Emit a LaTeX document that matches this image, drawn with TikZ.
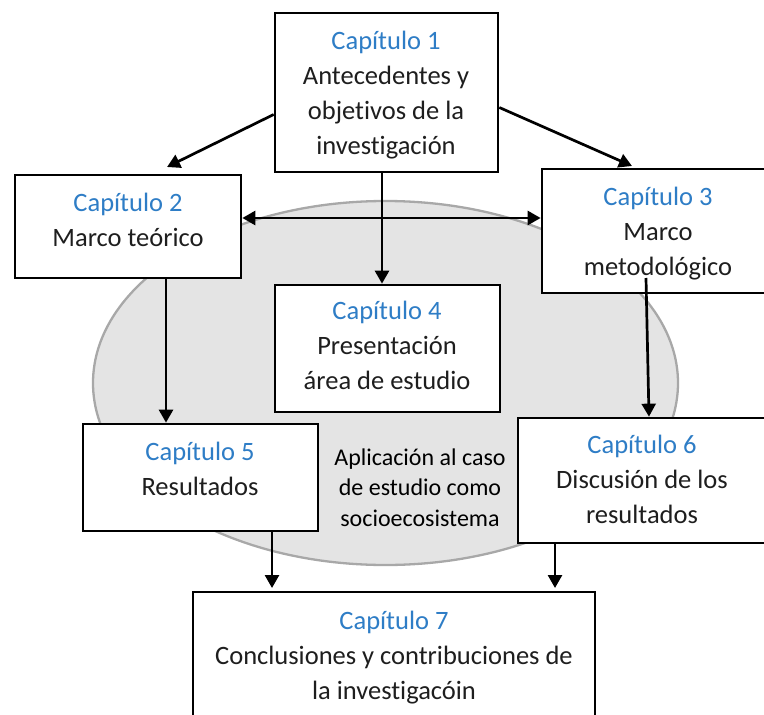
\documentclass[tikz,border=0pt]{standalone}
\usepackage{fontspec}
\setmainfont{Carlito}[Ligatures=NoCommon]
\usetikzlibrary{arrows.meta}
\definecolor{chapblue}{RGB}{46,125,198}
\definecolor{bodyink}{RGB}{30,30,30}
\definecolor{ovalfill}{RGB}{228,228,228}
\definecolor{ovaledge}{RGB}{168,168,168}
\begin{document}
\begin{tikzpicture}[x=1pt,y=-1pt,
  chapbox/.style={draw=black,line width=2.7pt,fill=white,inner sep=0pt},
  % multi-line nodes: the base anchor sits on the last line's baseline
  boxtext/.style={align=center,text=bodyink,inner sep=0pt,anchor=base,
    font=\fontsize{26.5}{35}\selectfont},
  midtext/.style={align=center,text=black,inner sep=0pt,anchor=base,
    font=\fontsize{24}{30.5}\selectfont},
  link/.style={line width=2.7pt,-{Triangle[length=13pt,width=14pt]}},
  duallink/.style={line width=2.7pt,{Triangle[length=13pt,width=14pt]}-{Triangle[length=13pt,width=14pt]}}]

\useasboundingbox (0,0) rectangle (764,715);

% shaded case-study region
\draw[fill=ovalfill,draw=ovaledge,line width=2.3pt]
  (385.5,383) ellipse [x radius=292.5pt, y radius=182pt];

% chapter boxes
\node[chapbox,minimum width=223pt,minimum height=159pt] (c1) at (386.5,92.5) {};
\node[chapbox,minimum width=226pt,minimum height=103pt] (c2) at (128,226.5) {};
\node[chapbox,minimum width=226pt,minimum height=124pt] (c3) at (655,231) {};
\node[chapbox,minimum width=225pt,minimum height=127pt] (c4) at (387.5,348.5) {};
\node[chapbox,minimum width=235pt,minimum height=107pt] (c5) at (200.5,477.5) {};
\node[chapbox,minimum width=248pt,minimum height=125pt] (c6) at (642,480.5) {};
\node[chapbox,minimum width=402pt,minimum height=130pt] (c7) at (394,657) {};

% box texts
\node[boxtext] (t1) at (386,154) {\textcolor{chapblue}{Capítulo 1}\\Antecedentes y\\objetivos de la\\investigación};
\node[boxtext] (t2) at (128,246) {\textcolor{chapblue}{Capítulo 2}\\Marco teórico};
\node[boxtext] (t3) at (658,275) {\textcolor{chapblue}{Capítulo 3}\\Marco\\metodológico};
\node[boxtext] (t4) at (387,389) {\textcolor{chapblue}{Capítulo 4}\\Presentación\\área de estudio};
\node[boxtext] (t5) at (200,495) {\textcolor{chapblue}{Capítulo 5}\\Resultados};
\node[boxtext] (t6) at (642,523) {\textcolor{chapblue}{Capítulo 6}\\Discusión de los\\resultados};
\node[boxtext] (t7) at (394,699) {\textcolor{chapblue}{Capítulo 7}\\Conclusiones y contribuciones de\\la investigacóin};
\node[midtext] (app) at (420,526) {Aplicación al caso\\de estudio como\\socioecosistema};

% arrow ends that stop short of a box
\coordinate (e2) at (167,167);
\coordinate (e3) at (632,166);
\coordinate (s6) at (646,278);
\coordinate (e7) at (272,588);
\coordinate (e8) at (555,588);

% connectors
\draw[link] ([yshift=-22pt]c1.west) -- (e2);
\draw[link] ([yshift=-15pt]c1.east) -- (e3);
\draw[link] ([xshift=-4.5pt]c1.south) -- ([xshift=-5.5pt]c4.north);
\draw[duallink] ([yshift=8.5pt]c2.east) -- ([yshift=8.5pt]c2.east -| c3.west);
\draw[link] ([xshift=38pt]c2.south) -- ([xshift=38pt]c2.south |- c5.north);
\draw[link] (s6) -- ([xshift=7pt]c6.north);
\draw[link] ([xshift=71.5pt]c5.south) -- (e7);
\draw[link] ([xshift=-87pt]c6.south) -- (e8);
\end{tikzpicture}
\end{document}
